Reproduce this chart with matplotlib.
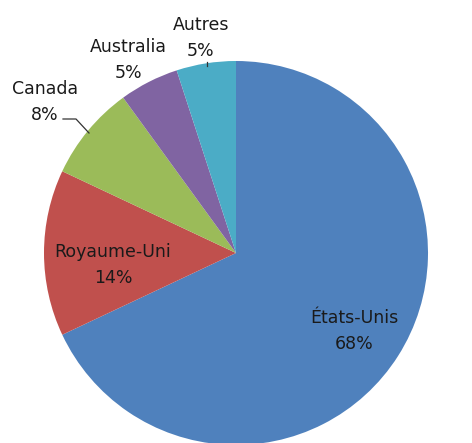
import matplotlib.pyplot as plt
import numpy as np

countries = ["États-Unis", "Royaume-Uni", "Canada", "Australia", "Autres"]
shares = [68, 14, 8, 5, 5]
colors = ["#4F81BD", "#C0504D", "#9BBB59", "#8064A2", "#4BACC6"]

# pixel layout helpers (pie centre at 236,253, radius 192 px)
cx, cy, R = 236, 253, 192


def px(x, y):
    return (x - cx) / R, (cy - y) / R


fig = plt.figure(figsize=(4.72, 4.43), dpi=100)
ax = fig.add_axes([0, 0, 1, 1])
ax.pie(shares, colors=colors, startangle=90, counterclock=False,
       radius=1, center=(0, 0), wedgeprops=dict(linewidth=0))
ax.set_xlim(px(0, 0)[0], px(472, 0)[0])
ax.set_ylim(px(0, 443)[1], px(0, 0)[1])
ax.set_aspect("equal")
ax.axis("off")

# label positions (pixel coords of text centre)
label_pos = [(354, 331), (113, 265), (45, 102), (128, 60), (201, 38)]
for name, val, (lx, ly) in zip(countries, shares, label_pos):
    x, y = px(lx, ly)
    ax.text(x, y, f"{name}\n{val}%", ha="center", va="center",
            fontsize=12.5, color="#1a1a1a", linespacing=1.55)

# leader lines
for pts in [[(63, 119), (76, 119), (89, 133)], [(207, 62), (207, 66)]]:
    xs, ys = zip(*[px(a, b) for a, b in pts])
    ax.plot(xs, ys, color="#333333", lw=0.9)

fig.savefig("out.png", dpi=100)
